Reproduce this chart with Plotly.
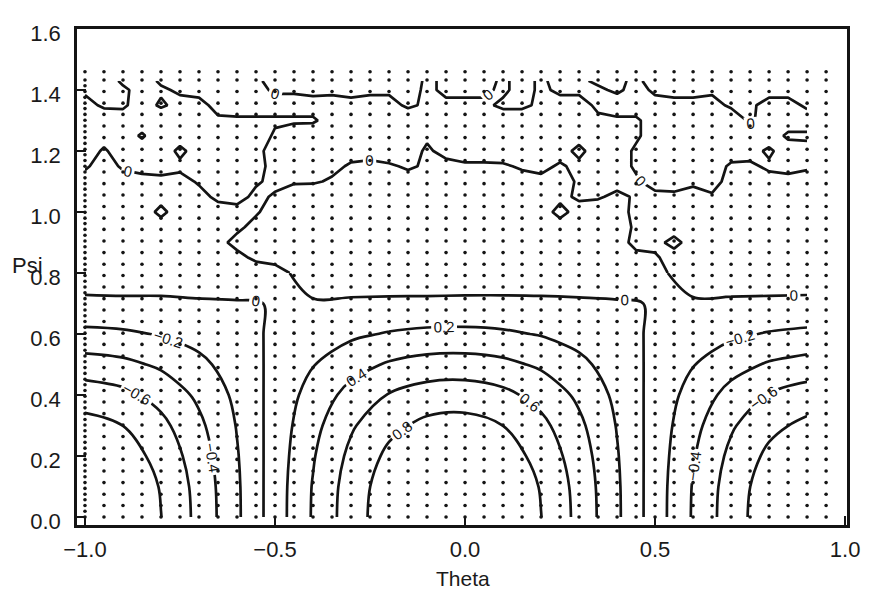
import numpy as np
import plotly.graph_objects as go

# ---------------- lower (smooth) part of the field ----------------
theta_low = [-1.0, -0.9, -0.8, -0.7, -0.6, -0.5, -0.4, -0.3, -0.2, -0.1,
             0.0, 0.1, 0.2, 0.3, 0.4, 0.5, 0.6, 0.7, 0.8, 0.9]
psi_low = [0.0, 0.1, 0.2, 0.3, 0.4, 0.5, 0.6, 0.7, 0.8]

z_psi_000 = [-1.066, -0.982, -0.803, -0.545, -0.233, 0.101, 0.419, 0.707, 0.921, 1.044, 1.066, 0.982, 0.803, 0.545, 0.233, -0.101, -0.419, -0.707, -0.921, -1.044]
z_psi_010 = [-1.046, -0.964, -0.788, -0.534, -0.229, 0.099, 0.412, 0.694, 0.904, 1.025, 1.046, 0.964, 0.788, 0.534, 0.229, -0.099, -0.412, -0.694, -0.904, -1.025]
z_psi_020 = [-0.976, -0.900, -0.735, -0.499, -0.214, 0.092, 0.384, 0.648, 0.844, 0.956, 0.976, 0.900, 0.735, 0.499, 0.214, -0.092, -0.384, -0.648, -0.844, -0.956]
z_psi_030 = [-0.867, -0.799, -0.653, -0.443, -0.190, 0.082, 0.341, 0.575, 0.749, 0.849, 0.867, 0.799, 0.653, 0.443, 0.190, -0.082, -0.341, -0.575, -0.749, -0.849]
z_psi_040 = [-0.707, -0.652, -0.533, -0.361, -0.155, 0.067, 0.278, 0.469, 0.611, 0.693, 0.707, 0.652, 0.533, 0.361, 0.155, -0.067, -0.278, -0.469, -0.611, -0.693]
z_psi_050 = [-0.488, -0.450, -0.368, -0.249, -0.107, 0.046, 0.192, 0.324, 0.422, 0.478, 0.488, 0.450, 0.368, 0.249, 0.107, -0.046, -0.192, -0.324, -0.422, -0.478]
z_psi_060 = [-0.249, -0.230, -0.188, -0.127, -0.055, 0.024, 0.098, 0.165, 0.215, 0.244, 0.249, 0.230, 0.188, 0.127, 0.055, -0.024, -0.098, -0.165, -0.215, -0.244]
z_psi_070 = [-0.040, -0.037, -0.030, -0.020, -0.009, 0.004, 0.016, 0.026, 0.034, 0.039, 0.040, 0.037, 0.030, 0.020, 0.009, -0.004, -0.016, -0.026, -0.034, -0.039]
z_psi_080 = [0.10, 0.11, 0.09, 0.10, 0.07, 0.05, -0.08, -0.10, -0.11, -0.12, -0.11, -0.10, -0.09, -0.08, -0.06, -0.03, 0.06, 0.09, 0.10, 0.10]

z_low = [z_psi_000, z_psi_010, z_psi_020, z_psi_030, z_psi_040,
         z_psi_050, z_psi_060, z_psi_070, z_psi_080]

# ---------------- upper (noisy, near-zero) part, values in hundredths ----------------
theta_up = [-1.0, -0.95, -0.9, -0.85, -0.8, -0.75, -0.7, -0.65, -0.6, -0.55,
            -0.5, -0.45, -0.4, -0.35, -0.3, -0.25, -0.2, -0.15, -0.1, -0.05,
            0.0, 0.05, 0.1, 0.15, 0.2, 0.25, 0.3, 0.35, 0.4, 0.45,
            0.5, 0.55, 0.6, 0.65, 0.7, 0.75, 0.8, 0.85, 0.9]
psi_up = [0.8, 0.85, 0.9, 0.95, 1.0, 1.05, 1.1, 1.15, 1.2, 1.25, 1.3, 1.35, 1.4, 1.43]

u080 = [10, 10.5, 11, 10, 9, 9.5, 10, 8.5, 7, 6, 5, -1.5, -8, -9, -10, -10.5, -11, -11.5, -12, -11.5, -11, -10.5, -10, -9.5, -9, -8.5, -8, -7, -6, -4.5, -3, 1.5, 6, 7.5, 9, 9.5, 10, 10, 10]
u085 = [8, 9, 9, 8, 7, 8, 8, 6, 3, -2, -4, -6, -7, -8, -8, -9, -9, -9, -10, -10, -9, -9, -9, -8, -8, -8, -7, -6, -4, -2, -1, 3, 6, 7, 8, 8, 9, 9, 9]
u090 = [7, 8, 9, 8, 6, 7, 7, 3, -3, -5, -6, -7, -7, -8, -9, -9, -10, -9, -9, -9, -8, -9, -9, -8, -8, -7, -7, -5, -3, 2, 2, -2, 3, 6, 7, 8, 8, 9, 9]
u095 = [6, 7, 8, 7, 6, 6, 6, 4, 2, -3, -5, -6, -7, -8, -8, -8, -9, -9, -8, -8, -8, -8, -8, -7, -7, -6, -6, -5, -3, 1, 2, 3, 4, 5, 6, 7, 7, 8, 8]
u100 = [7, 8, 7, 6, -3, 6, 5, 4, 3, 1, -4, -6, -7, -7, -8, -8, -8, -7, -7, -7, -6, -7, -7, -6, -6, 4, -5, -5, -3, 2, 4, 5, 6, 7, 6, 6, 7, 7, 7]
u105 = [5, 6, 5, 5, 4, 5, 3, -2, -3, 2, -1, -5, -6, -6, -7, -7, -6, -6, -6, -5, -5, -6, -6, -5, -5, -3, 2, 1, -2, 1, 2, 2, 2, 1, 3, 4, 5, 5, 5]
u110 = [3, 5, 3, 2, 2, 3, -1, -4, -4, -1, 2, 1, 1, -1, -4, -5, -4, -3, -4, -5, -4, -4, -3, -3, -2, -3, 1, 3, 3, 1, -3, -4, -1, -3, 3, 3, 2, 2, 3]
u115 = [-1, 3, -1, -2, -3, -2, -3, -3, -4, -2, 2, 3, 3, 2, -1, -2, -1, 1, -1, -2, -1, -1, -1, 1, 2, -1, 2, 3, 3, -1, -4, -4, -3, -3, 1, 1, -1, -2, -1]
u120 = [-4, 1, -4, -4, -5, 2, -4, -5, -5, -2, 3, 4, 5, 4, 3, 3, 4, 3, -1, 2, 3, 3, 4, 4, 4, 3, -2, 4, 3, -1, -4, -5, -5, -4, -3, -2, 1, -3, -2]
u125 = [-5, -3, -4, 1, -5, -4, -5, -4, -5, -4, 1, 4, 5, 5, 4, 5, 4, 4, 1, 3, 4, 4, 5, 4, 3, 4, 3, 4, 4, 1, -3, -5, -4, -5, -4, -3, -3, 1, 1]
u130 = [-4, -4, -3, -4, -5, -4, -4, -1, -1, -1, -1, -1, -1, 3, 4, 4, 3, 4, 4, 3, 4, 4, 3, 3, 4, 3, 4, 1, 1, 1, -3, -4, -5, -4, -4, 1, -3, -3, -3]
u135 = [-2, 1, 1, -3, 1, -2, -2, 2, 3, 3, 3, 3, 3, 2, 2, 2, 2, -1, 1, 1, 1, 1, -1, -1, 1, 2, 2, -1, -3, -3, -2, -2, -2, -2, 1, 1, -2, -2, 1]
u140 = [1, 3, 1, -2, -1, 1, 2, 3, 3, 2, -1, -1, -2, -1, -2, -1, -1, -2, 1, -1, -1, -1, 1, -2, 1, -1, -1, -1, 1, -2, 1, 2, 2, 1, 1, 1, 2, 2, 1]
u143 = [3, 3, -1, -3, 1, 2, 3, 3, 3, 1, -2, -3, -3, -2, -3, -2, -2, -3, 1, -1, -2, -2, 1, -2, 1, -2, -1, 1, 1, -1, 2, 3, 3, 2, 2, 2, 3, 3, 2]

z_up_hundredths = [u080, u085, u090, u095, u100, u105, u110, u115, u120,
                   u125, u130, u135, u140, u143]
z_up = (np.array(z_up_hundredths, dtype=float) / 100.0).tolist()

# ---------------- sample-point dot grid ----------------
dot_theta = [-1.0, -0.95, -0.9, -0.85, -0.8, -0.75, -0.7, -0.65, -0.6, -0.55,
             -0.5, -0.45, -0.4, -0.35, -0.3, -0.25, -0.2, -0.15, -0.1, -0.05,
             0.0, 0.05, 0.1, 0.15, 0.2, 0.25, 0.3, 0.35, 0.4, 0.45,
             0.5, 0.55, 0.6, 0.65, 0.7, 0.75, 0.8, 0.85, 0.9, 0.95]
dot_psi = [0.0, 0.038, 0.075, 0.113, 0.151, 0.189, 0.226, 0.264, 0.302, 0.339,
           0.377, 0.415, 0.452, 0.490, 0.528, 0.566, 0.603, 0.641, 0.679, 0.716,
           0.754, 0.792, 0.829, 0.867, 0.905, 0.943, 0.980, 1.018, 1.056, 1.093,
           1.131, 1.169, 1.206, 1.244, 1.282, 1.320, 1.357, 1.395, 1.433, 1.460]
edge_psi = [0.019, 0.057, 0.094, 0.132, 0.170, 0.207, 0.245, 0.283, 0.320, 0.358,
            0.396, 0.434, 0.471, 0.509, 0.547, 0.585, 0.622, 0.660, 0.698, 0.735,
            0.773, 0.811, 0.848, 0.886, 0.924, 0.962, 0.999, 1.037, 1.075, 1.112,
            1.150, 1.188, 1.225, 1.263, 1.301, 1.339, 1.376, 1.414]

mx, my = np.meshgrid(dot_theta, dot_psi)
dots_x = list(mx.ravel()) + [dot_theta[0]] * len(edge_psi)
dots_y = list(my.ravel()) + edge_psi

FONT = "Liberation Sans"
INK = "#141414"
levels = dict(start=-0.8, end=0.8, size=0.2, coloring="none", showlabels=True,
              labelfont=dict(family=FONT, size=15, color=INK))

fig = go.Figure()
fig.add_trace(go.Scatter(
    x=dots_x, y=dots_y, mode="markers",
    marker=dict(size=3.6, color=INK),
    hoverinfo="skip", showlegend=False,
))
fig.add_trace(go.Contour(
    x=theta_low, y=psi_low, z=z_low, autocontour=False, contours=levels,
    line=dict(color=INK, width=2.7, smoothing=1.0),
    showscale=False, hoverinfo="skip",
))
fig.add_trace(go.Contour(
    x=theta_up, y=psi_up, z=z_up, autocontour=False, contours=levels,
    line=dict(color=INK, width=2.7, smoothing=0.0),
    showscale=False, hoverinfo="skip",
))

fig.update_layout(
    width=861, height=581,
    margin=dict(l=69, r=22, t=21, b=64, autoexpand=False),
    paper_bgcolor="white", plot_bgcolor="white",
    font=dict(family=FONT, size=22, color="#1a1a1a"),
    showlegend=False,
    xaxis=dict(range=[-1.021, 1.005], tickvals=[-1.0, -0.5, 0.0, 0.5, 1.0],
               tickformat=".1f", ticks="inside", ticklen=9, tickwidth=2,
               tickcolor=INK, showline=True, linewidth=2.5, linecolor=INK,
               mirror=True, showgrid=False, zeroline=False,
               automargin=False, ticklabelstandoff=3),
    yaxis=dict(range=[-0.026, 1.6], tickvals=[0.0, 0.2, 0.4, 0.6, 0.8, 1.0, 1.2, 1.4, 1.6],
               tickformat=".1f", ticks="inside", ticklen=9, tickwidth=2,
               tickcolor=INK, showline=True, linewidth=2.5, linecolor=INK,
               mirror=True, showgrid=False, zeroline=False,
               automargin=False, ticklabelstandoff=9, ticklabelshift=4),
    annotations=[
        dict(text="Theta", xref="paper", yref="paper",
             x=0.501, y=-0.107, xanchor="center", yanchor="middle",
             showarrow=False, font=dict(size=21, family=FONT, color="#1a1a1a")),
        dict(text="Psi", xref="paper", yref="paper",
             x=-0.087, y=0.524, xanchor="left", yanchor="middle",
             showarrow=False, font=dict(size=22, family=FONT, color="#1a1a1a")),
    ],
)

fig.write_html("out.html")
